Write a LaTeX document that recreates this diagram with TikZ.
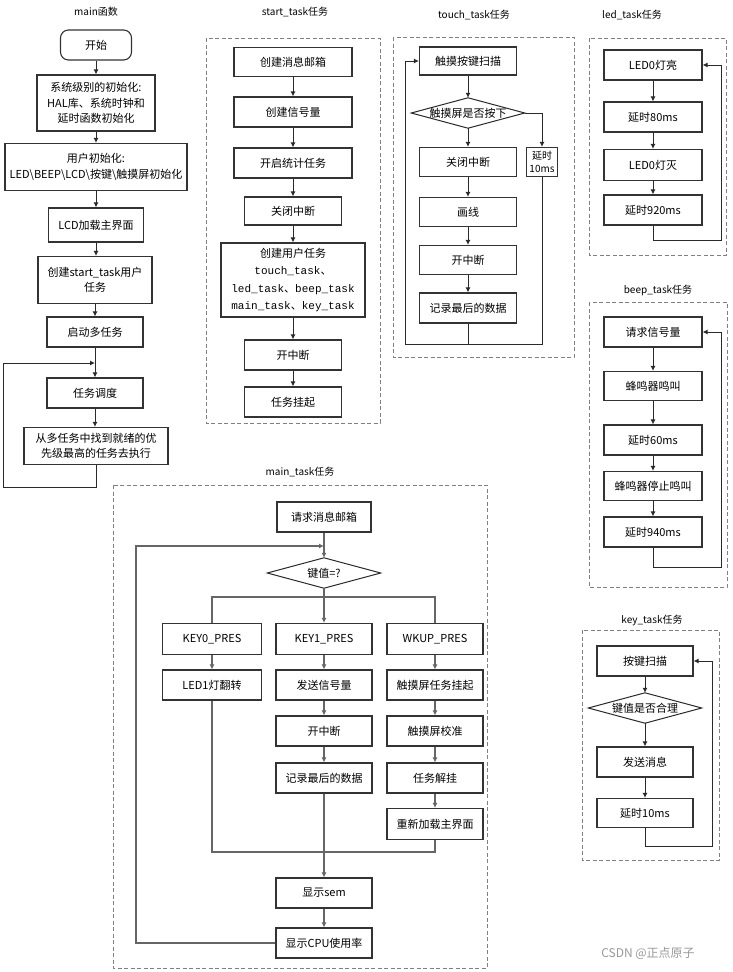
\documentclass[tikz,border=0pt]{standalone}
\usepackage{fontspec}
\setmainfont{Noto Sans CJK SC}
\newfontfamily\cjk{Noto Sans CJK SC}
\newfontfamily\monof{Liberation Mono}
\usetikzlibrary{arrows.meta,shapes.geometric}
\definecolor{bc}{HTML}{333333}
\definecolor{lc}{HTML}{2A2A2A}
\definecolor{mlc}{HTML}{666666}
\definecolor{dc}{HTML}{808080}
\newcommand{\fz}{\fontsize{11}{15.5}\selectfont}
\begin{document}
\begin{tikzpicture}[x=1pt,y=-1pt,
  box/.style={draw=bc, line width=1.1pt, inner sep=1pt, align=center, font=\fz, text=black},
  dtext/.style={inner sep=0pt, font=\fz, minimum width=113pt, minimum height=30pt},
  ttl/.style={font=\fontsize{10}{12}\selectfont, inner sep=0pt},
  frame/.style={draw=dc, line width=1pt, dash pattern=on 4pt off 2.5pt},
  ln/.style={draw=lc, line width=1pt},
  arr/.style={draw=lc, line width=1pt, -{Latex[length=5pt,width=5pt]}},
  mln/.style={draw=mlc, line width=1.4pt},
  marr/.style={draw=mlc, line width=1.4pt, -{Latex[length=5pt,width=5pt]}},
]
\useasboundingbox (0,0) rectangle (732,972);
\fill[white] (0,0) rectangle (732,972);

% ================= main function =================
\node[ttl] (m0) at (96,12) {main函数};
\node[box, rounded corners=8pt, minimum width=71pt, minimum height=30pt] (m1) at (96,45) {开始};
\node[box, minimum width=118pt, minimum height=56pt] (m2) at (96,103) {系统级别的初始化:\\HAL库、系统时钟和\\延时函数初始化};
\node[box, minimum width=182pt, minimum height=47pt] (m3) at (96,167) {用户初始化:\\LED\textbackslash BEEP\textbackslash LCD\textbackslash 按键\textbackslash 触摸屏初始化};
\node[box, minimum width=95pt, minimum height=34pt] (m4) at (96,225) {LCD加载主界面};
\node[box, minimum width=114pt, minimum height=47pt] (m5) at (95,280) {创建start\_task用户\\任务};
\node[box, minimum width=96pt, minimum height=30pt] (m6) at (95,332) {启动多任务};
\node[box, minimum width=96pt, minimum height=30pt] (m7) at (95,393) {任务调度};
\node[box, minimum width=144pt, minimum height=37pt] (m8) at (96,446) {从多任务中找到就绪的优\\先级最高的任务去执行};
\coordinate (mj) at (95,363);
\coordinate (mb) at (3,487);
\draw[arr] (m1) -- (m2);
\draw[arr] (m2) -- (m3);
\draw[arr] (m3) -- (m4);
\draw[arr] (m4.south) -- (m4.south |- m5.north);
\draw[arr] (m5) -- (m6);
\draw[arr] (m6) -- (m7);
\draw[arr] (m7.south) -- (m7.south |- m8.north);
\draw[arr] (m8.south) |- (mb) |- (mj);

% ================= start_task =================
\node[ttl] (s0) at (295,12) {start\_task任务};
\draw[frame] (206,38) rectangle (380,423);
\node[box, minimum width=118pt, minimum height=29pt] (s1) at (293,62) {创建消息邮箱};
\node[box, minimum width=118pt, minimum height=30pt] (s2) at (293,112) {创建信号量};
\node[box, minimum width=118pt, minimum height=30pt] (s3) at (293,163) {开启统计任务};
\node[box, minimum width=97pt, minimum height=28pt] (s4) at (293,211) {关闭中断};
\node[box, minimum width=144pt, minimum height=74pt, font=\fontsize{11}{17.5}\selectfont] (s5) at (293,280) {创建用户任务\\{\monof touch\_task}{\cjk 、}\\{\monof led\_task}{\cjk 、}{\monof beep\_task}\\{\monof main\_task}{\cjk 、}{\monof key\_task}};
\node[box, minimum width=97pt, minimum height=30pt] (s6) at (293,355) {开中断};
\node[box, minimum width=97pt, minimum height=30pt] (s7) at (293,402) {任务挂起};
\draw[arr] (s1) -- (s2);
\draw[arr] (s2) -- (s3);
\draw[arr] (s3) -- (s4);
\draw[arr] (s4) -- (s5);
\draw[arr] (s5) -- (s6);
\draw[arr] (s6) -- (s7);

% ================= touch_task =================
\node[ttl] (t0) at (474,15) {touch\_task任务};
\draw[frame] (393,37) rectangle (574,357);
\node[box, minimum width=97pt, minimum height=28pt] (t1) at (468,61) {触摸按键扫描};
\node[dtext] (t2) at (468,113) {触摸屏是否按下};
\draw[ln] (t2.west) -- (t2.north) -- (t2.east) -- (t2.south) -- cycle;
\node[box, minimum width=31pt, minimum height=29pt, inner sep=0pt, font=\fontsize{10}{13}\selectfont] (t4) at (542,162) {延时\\10ms};
\node[box, minimum width=97pt, minimum height=29pt] (t3) at (468,162) {关闭中断};
\node[box, minimum width=97pt, minimum height=29pt] (t5) at (468,212) {画线};
\node[box, minimum width=97pt, minimum height=29pt] (t6) at (468,260) {开中断};
\node[box, minimum width=97pt, minimum height=30pt] (t7) at (468,308) {记录最后的数据};
\coordinate (tb) at (468,344);
\coordinate (tl) at (405,344);
\draw[arr] (t1) -- (t2.north);
\draw[arr] (t2.south) -- (t3);
\draw[arr] (t3) -- (t5);
\draw[arr] (t5) -- (t6);
\draw[arr] (t6) -- (t7);
\draw[arr] (t2.east) -| (t4.north);
\draw[ln] (t7.south) -- (tb);
\draw[arr] (t4.south) |- (tl) |- (t1.west);

% ================= led_task =================
\node[ttl] (l0) at (632,15) {led\_task任务};
\draw[frame] (589,38) rectangle (726,255);
\node[box, minimum width=98pt, minimum height=30pt] (l1) at (653,65) {LED0灯亮};
\node[box, minimum width=98pt, minimum height=30pt] (l2) at (653,117) {延时80ms};
\node[box, minimum width=98pt, minimum height=31pt] (l3) at (653,165) {LED0灯灭};
\node[box, minimum width=98pt, minimum height=30pt] (l4) at (653,210) {延时920ms};
\coordinate (lc1) at (721,240);
\draw[arr] (l1) -- (l2);
\draw[arr] (l2) -- (l3);
\draw[arr] (l3) -- (l4);
\draw[arr] (l4.south) |- (lc1) |- (l1.east);

% ================= beep_task =================
\node[ttl] (b0) at (658,290) {beep\_task任务};
\draw[frame] (589,302) rectangle (727,587);
\node[box, minimum width=98pt, minimum height=30pt] (b1) at (653,332) {请求信号量};
\node[box, minimum width=98pt, minimum height=29pt] (b2) at (653,386) {蜂鸣器鸣叫};
\node[box, minimum width=98pt, minimum height=30pt] (b3) at (653,440) {延时60ms};
\node[box, minimum width=98pt, minimum height=29pt] (b4) at (653,486) {蜂鸣器停止鸣叫};
\node[box, minimum width=98pt, minimum height=30pt] (b5) at (653,532) {延时940ms};
\coordinate (bc1) at (721,567);
\draw[arr] (b1) -- (b2);
\draw[arr] (b2) -- (b3);
\draw[arr] (b3) -- (b4);
\draw[arr] (b4) -- (b5);
\draw[arr] (b5.south) |- (bc1) |- (b1.east);

% ================= key_task =================
\node[ttl] (k0) at (652,620) {key\_task任务};
\draw[frame] (582,630) rectangle (719,860);
\node[box, minimum width=96pt, minimum height=30pt] (k1) at (645,661) {按键扫描};
\node[dtext] (k2) at (645,708) {键值是否合理};
\draw[ln] (k2.west) -- (k2.north) -- (k2.east) -- (k2.south) -- cycle;
\node[box, minimum width=96pt, minimum height=30pt] (k3) at (645,762) {发送消息};
\node[box, minimum width=96pt, minimum height=29pt] (k4) at (645,813) {延时10ms};
\coordinate (kc1) at (712,846);
\draw[arr] (k1) -- (k2.north);
\draw[arr] (k2.south) -- (k3);
\draw[arr] (k3) -- (k4);
\draw[arr] (k4.south) |- (kc1) |- (k1.east);

% ================= main_task =================
\node[ttl] (n0) at (300,472) {main\_task任务};
\draw[frame] (113,485) rectangle (487,968);
\node[box, minimum width=94pt, minimum height=30pt] (n1) at (324,517) {请求消息邮箱};
\node[dtext] (n2) at (324,573) {键值=?};
\draw[ln] (n2.west) -- (n2.north) -- (n2.east) -- (n2.south) -- cycle;
\node[box, minimum width=99pt, minimum height=31pt] (n3) at (212,639) {KEY0\_PRES};
\node[box, minimum width=96pt, minimum height=31pt] (n4) at (324,639) {KEY1\_PRES};
\node[box, minimum width=96pt, minimum height=31pt] (n5) at (435,639) {WKUP\_PRES};
\node[box, minimum width=99pt, minimum height=30pt] (n6) at (212,685) {LED1灯翻转};
\node[box, minimum width=96pt, minimum height=30pt] (n7) at (324,685) {发送信号量};
\node[box, minimum width=96pt, minimum height=30pt] (n8) at (435,685) {触摸屏任务挂起};
\node[box, minimum width=96pt, minimum height=30pt] (n9) at (324,731) {开中断};
\node[box, minimum width=96pt, minimum height=30pt] (n10) at (435,731) {触摸屏校准};
\node[box, minimum width=96pt, minimum height=30pt] (n11) at (324,778) {记录最后的数据};
\node[box, minimum width=96pt, minimum height=30pt] (n12) at (435,778) {任务解挂};
\node[box, minimum width=96pt, minimum height=31pt] (n13) at (435,824) {重新加载主界面};
\node[box, minimum width=96pt, minimum height=30pt] (n14) at (324,893) {显示sem};
\node[box, minimum width=96pt, minimum height=30pt] (n15) at (324,943) {显示CPU使用率};
\coordinate (nj) at (324,546);
\coordinate (nl) at (136,546);
\coordinate (nb) at (324,597);
\coordinate (nm) at (324,852);
\draw[marr] (n1) -- (n2.north);
\draw[marr] (n2.south) -- (n4);
\draw[mln] (nb) -| (n3.north);
\draw[mln] (nb) -| (n5.north);
\draw[marr] (n3) -- (n6);
\draw[marr] (n4) -- (n7);
\draw[marr] (n5) -- (n8);
\draw[marr] (n7) -- (n9);
\draw[marr] (n9) -- (n11);
\draw[marr] (n8) -- (n10);
\draw[marr] (n10) -- (n12);
\draw[marr] (n12) -- (n13);
\draw[mln] (n6.south) |- (nm) -| (n13.south);
\draw[marr] (n11) -- (n14);
\draw[marr] (n14) -- (n15);
\draw[marr] (n15.west) -| (nl) -- (nj);

% watermark
\node[font=\fontsize{12}{14}\selectfont, text=black!40, inner sep=0pt] (wm) at (648,953) {CSDN @正点原子};
\end{tikzpicture}
\end{document}
